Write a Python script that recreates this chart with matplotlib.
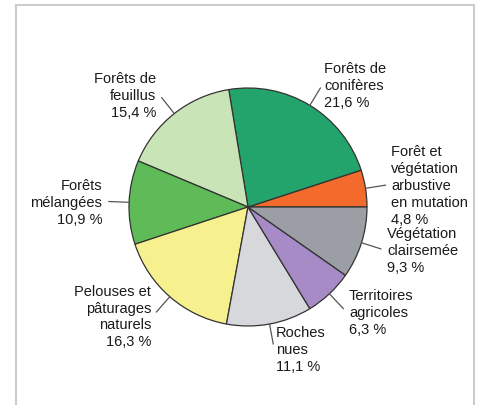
import numpy as np
import matplotlib
matplotlib.use("Agg")
import matplotlib.pyplot as plt
from matplotlib.patches import Rectangle

plt.rcParams['font.family'] = ['Liberation Sans', 'DejaVu Sans']

# data (counterclockwise from 3 o'clock)
labels = ["Forêt et\nvégétation\narbustive\nen mutation\n4,8 %",
          "Forêts de\nconifères\n21,6 %",
          "Forêts de\nfeuillus\n15,4 %",
          "Forêts\nmélangées\n10,9 %",
          "Pelouses et\npâturages\nnaturels\n16,3 %",
          "Roches\nnues\n11,1 %",
          "Territoires\nagricoles\n6,3 %",
          "Végétation\nclairsemée\n9,3 %"]
values = [4.8, 21.6, 15.4, 10.9, 16.3, 11.1, 6.3, 9.3]
colors = ["#f36b2c", "#23a46c", "#c9e5b8", "#5fbb57",
          "#f6f08e", "#d7d8dc", "#a78bc6", "#9b9fa5"]

# label anchor positions in pixels (x, y, ha)
label_pos = [(391, 186, 'left'), (324, 86, 'left'), (156, 96, 'right'),
             (102, 203, 'right'), (151, 317, 'right'), (276, 350, 'left'),
             (349, 313, 'left'), (387, 251, 'left')]

W, H = 483, 405
cx, cy, R = 248, 207, 119

fig = plt.figure(figsize=(W / 100, H / 100), dpi=100)
ax = fig.add_axes([0, 0, 1, 1])

wedges, _ = ax.pie(values, colors=colors, startangle=0, counterclock=True,
                   radius=1, center=(0, 0),
                   wedgeprops=dict(edgecolor='#333333', linewidth=0.9))

ax.set_xlim(-cx / R, (W - cx) / R)
ax.set_ylim(-(H - cy) / R, cy / R)
ax.set_aspect('equal')
ax.axis('off')

for w, lab, (px, py, ha) in zip(wedges, labels, label_pos):
    ang = np.deg2rad((w.theta1 + w.theta2) / 2)
    ax.plot([np.cos(ang), 1.17 * np.cos(ang)], [np.sin(ang), 1.17 * np.sin(ang)],
            color='#555555', lw=0.9)
    ax.text((px - cx) / R, (cy - py) / R, lab, ha=ha, va='center',
            fontsize=10.5, color='#1a1a1a', linespacing=1.25)

# outer frame
fig.patches.append(Rectangle((16 / W, -0.05), 458 / W, 1.05 - 5 / H,
                             transform=fig.transFigure, fill=False,
                             edgecolor='#cccccc', lw=1.5))

fig.savefig("out.png", dpi=100)
